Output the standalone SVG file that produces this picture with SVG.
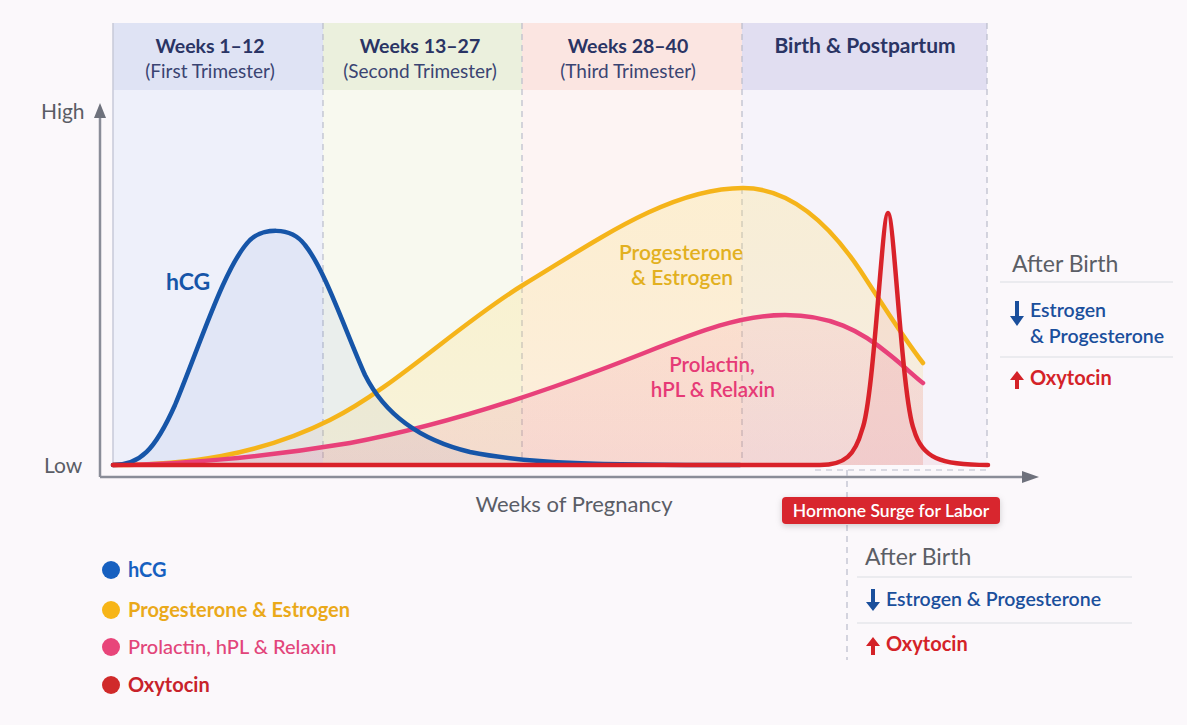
<svg xmlns="http://www.w3.org/2000/svg" width="1187" height="725" viewBox="0 0 1187 725">
<defs>
<style>
text{font-family:Lato,"Open Sans","DejaVu Sans",sans-serif}
.hd{font-size:19.5px;font-weight:700;fill:#2a3464;text-anchor:middle}
.sub{font-size:19px;fill:#3a4472;text-anchor:middle}
.ax{font-size:21px;fill:#5a5d66}
.div{stroke:#b9bccb;stroke-width:1.2;stroke-dasharray:6 5;fill:none}
.crv{fill:none;stroke-width:4.5;stroke-linecap:round;stroke-linejoin:round}
.ab{font-size:23px;fill:#5b5e66}
.sep{stroke:#dcdde3;stroke-width:1.2}
.blue{fill:#1a4f9c;font-size:19.5px;font-weight:600}
.red{fill:#d42228;font-size:20px;font-weight:700}
.lg{font-size:20px;font-weight:700}
.yl{font-size:21px;font-weight:600;fill:#e2b020;text-anchor:middle}
.pl{font-size:20.5px;font-weight:600;fill:#e63a76;text-anchor:middle}
</style>
<linearGradient id="gy" x1="0" y1="0" x2="0" y2="1"><stop offset="0" stop-color="#fbe17a" stop-opacity="0.28"/><stop offset="1" stop-color="#f7c94a" stop-opacity="0.12"/></linearGradient>
<linearGradient id="gp" x1="0" y1="0" x2="0" y2="1"><stop offset="0" stop-color="#f06a96" stop-opacity="0.11"/><stop offset="1" stop-color="#d8457a" stop-opacity="0.14"/></linearGradient>
<filter id="sh" x="-10%" y="-30%" width="120%" height="180%"><feDropShadow dx="0" dy="2" stdDeviation="3" flood-color="#000" flood-opacity="0.18"/></filter>
</defs>
<rect width="1187" height="725" fill="#fbf8fb"/>

<g id="bands">
<rect x="113" y="90" width="210" height="375" fill="#eef0fa"/>
<rect x="323" y="90" width="199" height="375" fill="#f8f9ef"/>
<rect x="522" y="90" width="220" height="375" fill="#fdf4f3"/>
<rect x="742" y="90" width="245" height="375" fill="#f6f3fa"/>
<rect x="113" y="23" width="210" height="67" fill="#dfe3f4"/>
<rect x="323" y="23" width="199" height="67" fill="#ebf0dd"/>
<rect x="522" y="23" width="220" height="67" fill="#fbe5e1"/>
<rect x="742" y="23" width="245" height="67" fill="#e1def1"/>
<line x1="113" y1="23" x2="113" y2="465" stroke="#c7cad8" stroke-width="1.5"/>
<line class="div" x1="323" y1="23" x2="323" y2="465"/>
<line class="div" x1="522" y1="23" x2="522" y2="465" stroke="#e4c3c3"/>
<line class="div" x1="742" y1="23" x2="742" y2="465"/>
<line class="div" x1="987" y1="23" x2="987" y2="465" stroke="#a9b3cf"/>
<text class="hd" x="210" y="53">Weeks 1–12</text>
<text class="sub" x="210" y="78">(First Trimester)</text>
<text class="hd" x="420" y="53">Weeks 13–27</text>
<text class="sub" x="420" y="78">(Second Trimester)</text>
<text class="hd" x="628" y="53">Weeks 28–40</text>
<text class="sub" x="628" y="78">(Third Trimester)</text>
<text class="hd" x="865" y="53" style="font-size:21px">Birth &amp; Postpartum</text>
</g>

<g id="fills">
<path d="M113,465 C140,465 155,450 175,405 C200,345 225,265 250,240 C262,229 290,225 305,245 C325,270 345,330 365,375 C385,415 420,440 470,452 C530,464 600,465 740,465 Z" fill="#3a64c0" fill-opacity="0.07"/>
<path d="M113,465 C185,465 258,456 330,420 C394,388 459,324 523,285 C596,241 670,188 743,188 C782,188 821,212 860,270 C881,302 902,336 923,363 L923,465 Z" fill="url(#gy)"/>
<path d="M113,465 C170,465 260,458 350,443 C430,428 520,400 600,370 C680,340 730,315 785,315 C830,315 860,330 890,355 C905,367 915,377 923,383 L923,465 Z" fill="url(#gp)"/>
<path d="M820,465 C845,465 855,455 862,430 C874,400 882,213 888,213 C894,213 902,400 914,430 C922,458 940,465 988,465 Z" fill="#e0485a" fill-opacity="0.08"/>
</g>

<g id="axes">
<line x1="100" y1="477" x2="100" y2="115" stroke="#8a8d98" stroke-width="2.5"/>
<path d="M94,118 L100,103 L106,118 Z" fill="#6e717c"/>
<line x1="100" y1="477" x2="1025" y2="477" stroke="#8a8d98" stroke-width="2.5"/>
<path d="M1022,471 L1039,477 L1022,483 Z" fill="#6e717c"/>
<text class="ax" x="41" y="119">High</text>
<text class="ax" x="44" y="473">Low</text>
<text x="574" y="512" font-size="22" fill="#5a5d66" text-anchor="middle">Weeks of Pregnancy</text>
<line class="div" x1="815" y1="470" x2="987" y2="470" stroke="#a9b3cf"/>
<line class="div" x1="847" y1="470" x2="847" y2="660"/>
</g>

<g id="curves">
<path class="crv" stroke="#f5b41a" d="M113,465 C185,465 258,456 330,420 C394,388 459,324 523,285 C596,241 670,188 743,188 C782,188 821,212 860,270 C881,302 902,336 923,363"/>
<path class="crv" stroke="#e8417a" d="M113,465 C170,465 260,458 350,443 C430,428 520,400 600,370 C680,340 730,315 785,315 C830,315 860,330 890,355 C905,367 915,377 923,383"/>
<path class="crv" stroke="#1655a8" d="M113,465 C140,465 155,450 175,405 C200,345 225,265 250,240 C262,229 290,225 305,245 C325,270 345,330 365,375 C385,415 420,440 470,452 C530,464 600,465 740,465"/>
<path class="crv" stroke="#d9222a" d="M113,465 L820,465 C845,465 855,455 862,430 C874,400 882,213 888,213 C894,213 902,400 914,430 C922,458 940,465 988,465"/>
</g>

<g id="curve-labels">
<text x="166" y="290" font-size="23" font-weight="700" fill="#1655a8">hCG</text>
<text class="yl" x="681" y="260">Progesterone</text>
<text class="yl" x="682" y="285">&amp; Estrogen</text>
<text class="pl" x="712" y="372">Prolactin,</text>
<text class="pl" x="713" y="397">hPL &amp; Relaxin</text>
</g>

<g id="surge-label">
<rect x="782" y="497" width="218" height="27" rx="4" fill="#d8262e" filter="url(#sh)"/>
<text x="891" y="517" font-size="17.5" font-weight="600" fill="#ffffff" text-anchor="middle">Hormone Surge for Labor</text>
</g>

<g id="after-birth-right">
<text class="ab" x="1012" y="272">After Birth</text>
<line class="sep" x1="1000" y1="282" x2="1173" y2="282"/>
<path d="M1015,301 h4 v15 h5 l-7,10 l-7,-10 h5 Z" fill="#1a4f9c"/>
<text class="blue" x="1030" y="317">Estrogen</text>
<text class="blue" x="1030" y="343">&amp; Progesterone</text>
<line class="sep" x1="1000" y1="357" x2="1173" y2="357"/>
<path d="M1015,389 h4 v-9 h5 l-7,-9 l-7,9 h5 Z" fill="#d42228"/>
<text class="red" x="1030" y="385">Oxytocin</text>
</g>

<g id="after-birth-bottom">
<text class="ab" x="865" y="565">After Birth</text>
<line class="sep" x1="857" y1="577" x2="1132" y2="577"/>
<path d="M871,589 h4 v13 h5 l-7,9 l-7,-9 h5 Z" fill="#1a4f9c"/>
<text class="blue" x="886" y="606">Estrogen &amp; Progesterone</text>
<line class="sep" x1="857" y1="623" x2="1132" y2="623"/>
<path d="M871,655 h4 v-9 h5 l-7,-9 l-7,9 h5 Z" fill="#d42228"/>
<text class="red" x="886" y="651">Oxytocin</text>
</g>

<g id="legend">
<circle cx="111" cy="570" r="9" fill="#1660c0"/>
<text class="lg" x="128" y="577" fill="#1660c0">hCG</text>
<circle cx="111" cy="610" r="9" fill="#f7b517"/>
<text class="lg" x="128" y="617" fill="#eaa91a">Progesterone &amp; Estrogen</text>
<circle cx="111" cy="647" r="9" fill="#e8457a"/>
<text x="128" y="654" font-size="20" font-weight="500" fill="#e2457a">Prolactin, hPL &amp; Relaxin</text>
<circle cx="111" cy="685" r="9" fill="#d02a2a"/>
<text class="lg" x="128" y="692" fill="#c8222a">Oxytocin</text>
</g>
</svg>
